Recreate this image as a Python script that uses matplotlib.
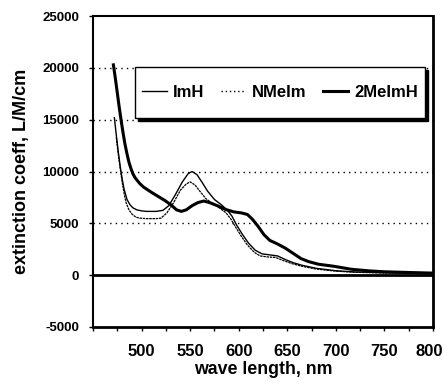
import numpy as np
import matplotlib
matplotlib.use("Agg")
import matplotlib.pyplot as plt
from matplotlib.lines import Line2D
from matplotlib.patches import Rectangle
import matplotlib.transforms as mtransforms

plt.rcParams['font.family'] = ['Liberation Sans', 'DejaVu Sans']
plt.rcParams['font.weight'] = 'bold'

# --- spectra (wavelength nm, extinction L/M/cm) ---
wl_imh = [472, 474, 476, 478, 480, 482, 485, 488, 491, 495, 500, 505, 515, 522, 528, 535, 542, 548, 552,
          557, 562, 568, 575, 582, 588, 593, 598, 604, 610, 617, 624, 632, 640, 648,
          656, 665, 680, 700, 720, 750, 800]
ext_imh = [15200, 13500, 11900, 10500, 9300, 8300, 7300, 6800, 6500, 6300, 6200, 6150, 6150, 6250, 6700, 7800, 9000, 9800, 10000,
           9700, 9000, 8100, 7300, 6800, 6300, 5700, 4800, 3900, 3100, 2400, 2050, 1950, 1850, 1500,
           1200, 950, 650, 420, 300, 230, 170]

wl_nmeim = [474, 476, 478, 480, 482, 484, 487, 490, 494, 498, 505, 515, 520, 526, 533, 540, 546, 550,
            555, 560, 566, 573, 580, 587, 592, 597, 603, 609, 616, 622, 630, 638, 646,
            655, 665, 680, 700, 720, 750, 800]
ext_nmeim = [13300, 11700, 10300, 9000, 7900, 7000, 6300, 5900, 5600, 5500, 5450, 5450, 5500, 6000, 7000, 8200, 8800, 9000,
             8700, 8100, 7400, 6900, 6500, 6000, 5400, 4600, 3700, 2900, 2200, 1850, 1750, 1700, 1400,
             1100, 850, 580, 380, 270, 200, 160]

wl_2me = [471, 473, 475, 477, 479, 481, 483, 485, 487, 489, 491, 493, 495, 498, 502, 506, 510, 517, 524, 530, 536, 541, 546,
          552, 558, 564, 570, 578, 586, 595, 603, 609, 614, 620, 626, 632, 640, 648,
          656, 664, 672, 682, 698, 716, 735, 750, 775, 800]
ext_2me = [20300, 19000, 17600, 16200, 14900, 13700, 12600, 11700, 10900, 10300, 9800, 9450, 9200, 8850, 8500, 8250, 8000, 7600, 7200, 6800, 6300, 6150, 6300,
           6700, 7000, 7150, 7000, 6700, 6350, 6100, 6000, 5850, 5400, 4700, 3900, 3350, 3000, 2600,
           2100, 1600, 1300, 1050, 850, 560, 400, 320, 250, 190]

labels = ["ImH", "NMeIm", "2MeImH"]
y_ticks = [-5000, 0, 5000, 10000, 15000, 20000, 25000]
x_ticks = [500, 550, 600, 650, 700, 750, 800]

fig = plt.figure(figsize=(4.45, 3.85), dpi=100)
ax = fig.add_axes([0.209, 0.151, 0.764, 0.807])

# dotted grid and zero line
for yv in [5000, 10000, 15000, 20000]:
    ax.axhline(yv, color='black', lw=1.0, ls=(0, (1, 3)), zorder=1)
ax.axhline(0, color='black', lw=2.0, zorder=2)

ax.plot(wl_imh, ext_imh, color='black', lw=1.0, zorder=3)
ax.plot(wl_nmeim, ext_nmeim, color='black', lw=0.9, ls=(0, (2, 0.6)), zorder=3)
ax.plot(wl_2me, ext_2me, color='black', lw=2.2, zorder=4)

ax.set_xlim(450, 800)
ax.set_ylim(-5000, 25000)
ax.set_yticks(y_ticks)
ax.set_yticklabels([str(v) for v in y_ticks], fontsize=9.5, fontweight='bold')
ax.set_xticks(x_ticks)
ax.set_xticklabels([str(v) for v in x_ticks], fontsize=12, fontweight='bold')
ax.set_xticks(np.arange(450, 801, 25), minor=True)
ax.tick_params(axis='x', which='both', direction='out', length=3, width=1, pad=9)
ax.tick_params(axis='y', direction='out', length=3, width=1, pad=7)

# keep the last x label inside the canvas
last = ax.get_xticklabels()[-1]
last.set_transform(last.get_transform() + mtransforms.ScaledTranslation(-4 / 100, 0, fig.dpi_scale_trans))

for side, lw in [('left', 1.5), ('bottom', 2.0), ('right', 2.0), ('top', 1.5)]:
    ax.spines[side].set_linewidth(lw)

ax.set_xlabel("wave length, nm", fontsize=12.8, fontweight='bold', labelpad=2)
ax.set_ylabel("extinction coeff, L/M/cm", fontsize=13, fontweight='bold', labelpad=9)

# legend box with solid black drop shadow
bx0, by0, bw, bh = 0.1235, 0.672, 0.853, 0.164
shadow_tr = mtransforms.offset_copy(ax.transAxes, fig=fig, x=3, y=-3, units='dots')
ax.add_patch(Rectangle((bx0, by0), bw, bh, transform=shadow_tr, facecolor='black',
                       edgecolor='black', zorder=5))
ax.add_patch(Rectangle((bx0, by0), bw, bh, transform=ax.transAxes, facecolor='white',
                       edgecolor='black', lw=1.0, zorder=6))
handles = [Line2D([], [], color='black', lw=1.0),
           Line2D([], [], color='black', lw=1.0, ls=(0, (1, 2))),
           Line2D([], [], color='black', lw=2.2)]
leg = ax.legend(handles, labels, loc='center', bbox_to_anchor=(bx0 + bw / 2, by0 + bh / 2),
                ncol=3, frameon=False, fontsize=12, handlelength=1.5, handletextpad=0.35,
                columnspacing=1.0, borderpad=0.2)
leg.set_zorder(7)

fig.savefig("out.png", dpi=100)
